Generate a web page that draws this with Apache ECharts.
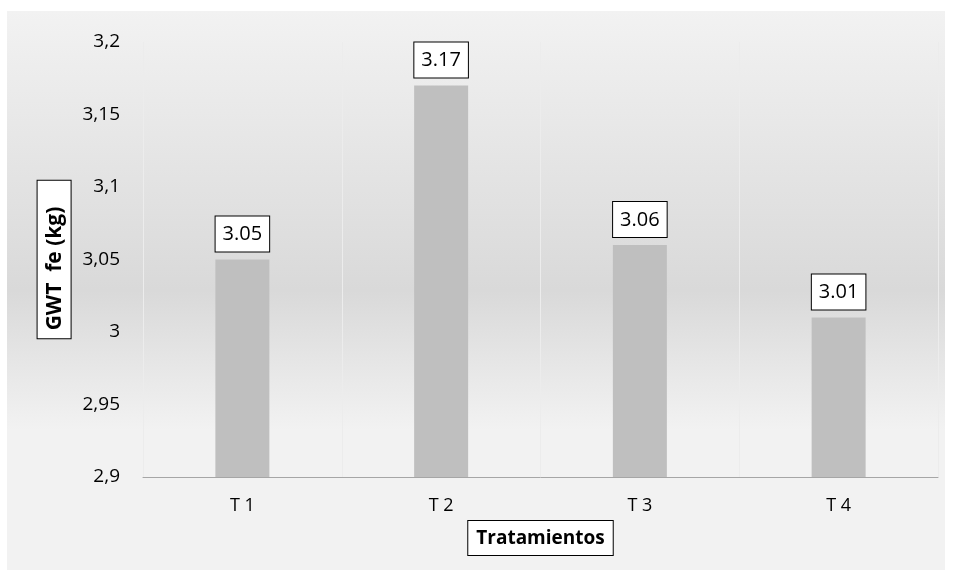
<!DOCTYPE html>
<html>
<head>
<meta charset="utf-8">
<script src="https://cdn.jsdelivr.net/npm/echarts@6/dist/echarts.min.js"></script>
<style>
  html, body { margin: 0; padding: 0; background: #fff; }
  #chart { width: 953px; height: 577px; }
</style>
</head>
<body>
<div id="chart"></div>
<script>
    // treatments and GWT values
    var categories = ['T 1', 'T 2', 'T 3', 'T 4'];
    var gwtValues = [3.05, 3.17, 3.06, 3.01];
    var yTicks = [2.9, 2.95, 3, 3.05, 3.1, 3.15, 3.2];

    var fontFamily = '"Open Sans", "Noto Sans", sans-serif';

    var myChart = echarts.init(document.getElementById('chart'));

    let option = {
        animation: false,
        graphic: [{
            type: 'rect',
            z: -10,
            silent: true,
            shape: { x: 7, y: 11, width: 938, height: 559 },
            style: {
                fill: new echarts.graphic.LinearGradient(0, 0, 0, 1, [
                    { offset: 0, color: '#f2f2f2' },
                    { offset: 0.5, color: '#d9d9d9' },
                    { offset: 0.75, color: '#f2f2f2' },
                    { offset: 1, color: '#f2f2f2' }
                ])
            }
        }],
        grid: {
            left: 143,
            right: 15,
            top: 42,
            bottom: 100
        },
        xAxis: {
            type: 'category',
            data: categories,
            axisLine: { lineStyle: { color: '#a6a6a6', width: 1 } },
            axisTick: { show: false },
            splitLine: { show: true, lineStyle: { color: '#ececec', width: 1 } },
            axisLabel: {
                color: '#000',
                fontSize: 18,
                fontFamily: fontFamily,
                margin: 20
            },
            name: 'Tratamientos',
            nameLocation: 'middle',
            nameGap: 43,
            nameTextStyle: {
                color: '#000',
                fontSize: 19,
                fontWeight: 'bold',
                fontFamily: fontFamily,
                backgroundColor: '#fff',
                borderColor: '#000',
                borderWidth: 1,
                padding: [8, 8, 7, 8],
                verticalAlign: 'top'
            }
        },
        yAxis: {
            type: 'value',
            min: 2.9,
            max: 3.2,
            interval: 0.05,
            axisLine: { show: false },
            axisTick: { show: false },
            splitLine: { show: false },
            axisLabel: {
                color: '#000',
                fontSize: 19,
                fontFamily: fontFamily,
                margin: 23,
                formatter: function (v) {
                    var match = yTicks.find(function (t) { return Math.abs(t - v) < 1e-6; });
                    return String(match !== undefined ? match : v).replace('.', ',');
                }
            },
            name: 'GWT  fe (kg)',
            nameLocation: 'middle',
            nameGap: 70,
            nameTextStyle: {
                color: '#000',
                fontSize: 21,
                fontWeight: 'bold',
                fontFamily: fontFamily,
                backgroundColor: '#fff',
                borderColor: '#000',
                borderWidth: 1,
                padding: [7, 26, 5, 8]
            }
        },
        series: [{
            type: 'bar',
            data: gwtValues,
            barWidth: 54,
            itemStyle: { color: '#bfbfbf' },
            label: {
                show: true,
                position: 'top',
                distance: 8,
                color: '#000',
                fontSize: 20,
                fontFamily: fontFamily,
                backgroundColor: '#fff',
                borderColor: '#000',
                borderWidth: 1,
                padding: [8, 7, 7, 7],
                formatter: function (p) { return p.value.toFixed(2); }
            }
        }]
    };
    myChart.setOption(option);
</script>
</body>
</html>
